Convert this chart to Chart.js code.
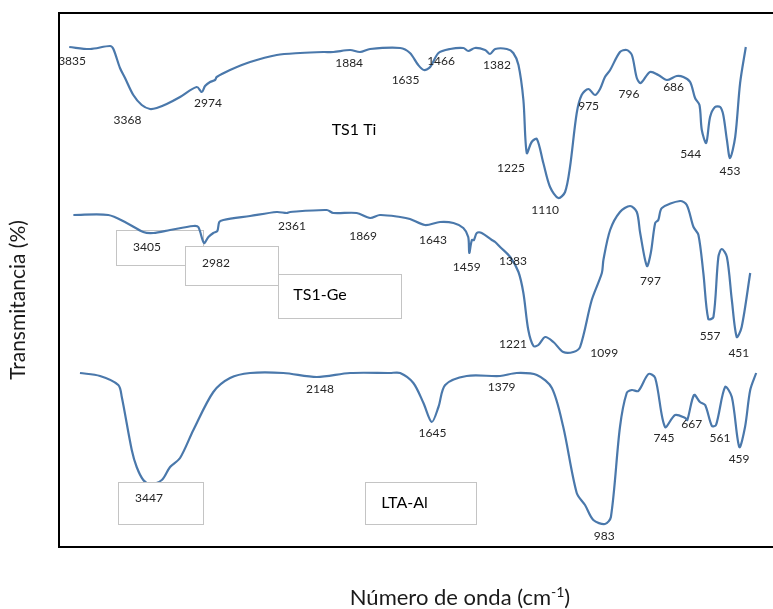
<!DOCTYPE html>
<html>
<head>
<meta charset="utf-8">
<script src="https://cdn.jsdelivr.net/npm/chart.js@4.4.0/dist/chart.umd.min.js"></script>
<style>
  html, body { margin: 0; padding: 0; background: #ffffff; }
  #c { display: block; }
</style>
</head>
<body>
<canvas id="c" width="773" height="609"></canvas>
<script>
// ---------- DATA (wavenumber in cm-1, transmittance in arbitrary units) ----------
const tiWavenumber = [4010,3849,3695,3669,3618,3579,3515,3450,3386,3334,3257,3154,3025,2986,2961,2922,2884,2871,2768,2613,2407,2227,2047,1985,1920,1882,1843,1727,1689,1657,1635,1611,1579,1534,1483,1464,1438,1399,1380,1360,1315,1290,1270,1251,1238,1219,1199,1174,1148,1116,1090,1071,1045,1026,1000,974,955,936,916,878,852,832,813,798,762,730,697,659,633,607,588,571,562,545,530,511,491,479,465,453,433,414,392];
const tiTransmittance = [500,498,501,498,479,469,452,442,438,439,443,450,460,455,461,465,467,470,477,485,492,494,495,495,497,495,498,499,494,482,477,480,494,498,499,496,499,497,493,498,498,494,482,447,394,405,408,384,360,349,355,380,434,452,458,452,458,470,477,495,497,492,469,464,475,472,467,471,470,465,449,442,417,404,430,440,440,432,407,389,410,464,500];

const geWavenumber = [3978,3708,3566,3438,3360,3231,3051,3013,2969,2935,2897,2866,2851,2820,2613,2407,2330,2304,2021,1985,1895,1843,1805,1727,1689,1631,1573,1521,1483,1464,1460,1450,1442,1431,1412,1373,1360,1341,1302,1270,1251,1232,1212,1193,1167,1135,1097,1058,1032,987,948,942,916,878,839,813,800,774,759,742,730,716,646,620,594,575,556,537,517,498,485,465,446,427,408,375];
const geTransmittance = [332,332,324,315,314,317,321,320,304,310,314,316,325,327,331,335,334,335,337,334,334,329,332,330,328,322,325,324,319,310,294,307,307,314,314,307,305,300,290,275,254,217,201,202,210,205,195,195,200,247,274,287,317,335,341,335,314,281,294,324,327,339,346,342,320,312,274,228,230,290,298,290,247,210,220,274];

const ltaWavenumber = [3927,3772,3631,3604,3527,3489,3438,3386,3295,3231,3154,3051,2897,2768,2613,2356,2098,1920,1766,1727,1676,1637,1605,1579,1553,1470,1341,1277,1199,1141,1097,1045,1013,981,936,913,878,852,832,807,768,742,704,665,626,618,592,569,549,523,507,472,446,417,395,375,352];
const ltaTransmittance = [174,171,162,150,97,80,67,63,67,80,89,117,155,169,174,174,170,174,174,174,164,144,125,140,162,171,171,174,172,159,120,54,42,27,23,30,120,154,157,156,173,169,120,132,129,127,152,145,142,121,122,160,150,100,120,157,174];

// Peak annotation texts and their anchor (wavenumber, transmittance)
const tiPeakText = ['3835','3368','2974','1884','1635','1466','1382','1225','1110','975','796','686','544','453'];
const tiPeakWn   = [3988,3560,2938,1924,1706,1569,1353,1299,1167,999,843,671,605,453];
const tiPeakT    = [486,427,444,484,467,486,482,379,337,441,453,460,393,376];

const gePeakText = ['3405','2982','2361','1869','1643','1459','1383','1221','1099','797','557','451'];
const gePeakWn   = [3409,2876,2289,1870,1600,1470,1291,1291,939,760,530,419];
const gePeakT    = [300,284,321,311,307,280,286,203,194,266,211,194];

const ltaPeakText = ['3447','2148','1645','1379','983','745','667','561','459'];
const ltaPeakWn   = [3394,2073,1602,1335,939,708,601,492,418];
const ltaPeakT    = [49,158,114,160,11,109,123,109,88];

const sampleNames = ['TS1 Ti','TS1-Ge','LTA-Al'];
const sampleNameWn = [1905,2073,1710];
const sampleNameT  = [417,252,44];

// Text boxes: [wnLeft, wnRight, tTop, tBottom, drawnOverCurves]
const boxWnLeft  = [3649,3115,2397,3633,1862];
const boxWnRight = [2976,2397,1723,2976,1434];
const boxTTop    = [317,301,273,65,65];
const boxTBottom = [282,262,229,23,23];
const boxOnTop   = [false,false,false,true,true];

const xTitle = 'Número de onda (cm';
const xTitleSup = '-1';
const xTitleEnd = ')';
const yTitle = 'Transmitancia (%)';

// ---------- custom wavenumber scale (half scale above 2000 cm-1) ----------
class WavenumberScale extends Chart.LinearScale {
  _u(v) { return v >= 2000 ? (4000 - v) / 2 : 1000 + (2000 - v); }
  _inv(u) { return u <= 1000 ? 4000 - 2 * u : 3000 - u; }
  getPixelForValue(v) {
    const u0 = this._u(this.max), u1 = this._u(this.min);
    return this.left + (this._u(v) - u0) / (u1 - u0) * this.width;
  }
  getValueForPixel(p) {
    const u0 = this._u(this.max), u1 = this._u(this.min);
    return this._inv(u0 + (p - this.left) / this.width * (u1 - u0));
  }
}
WavenumberScale.id = 'wavenumber';
WavenumberScale.defaults = Chart.LinearScale.defaults;
Chart.register(WavenumberScale);

function pts(xs, ys) { return xs.map((x, i) => ({ x: x, y: ys[i] })); }

const LINE = '#4a78ab';
const TXT = '#262626';

function drawBoxes(chart, onTop) {
  const { ctx, scales: { x, y } } = chart;
  ctx.save();
  for (let i = 0; i < boxWnLeft.length; i++) {
    if (boxOnTop[i] !== onTop) continue;
    const l = Math.round(x.getPixelForValue(boxWnLeft[i])) + 0.5;
    const r = Math.round(x.getPixelForValue(boxWnRight[i])) + 0.5;
    const t = Math.round(y.getPixelForValue(boxTTop[i])) + 0.5;
    const b = Math.round(y.getPixelForValue(boxTBottom[i])) + 0.5;
    ctx.fillStyle = '#ffffff';
    ctx.fillRect(l, t, r - l, b - t);
    ctx.strokeStyle = '#c4c4c4';
    ctx.lineWidth = 1;
    ctx.strokeRect(l, t, r - l, b - t);
  }
  ctx.restore();
}

const annot = {
  id: 'annot',
  beforeDatasetsDraw(chart) { drawBoxes(chart, false); },
  afterDatasetsDraw(chart) {
    drawBoxes(chart, true);
    const { ctx, chartArea, scales: { x, y } } = chart;
    ctx.save();
    ctx.fillStyle = TXT;
    ctx.textAlign = 'center';
    ctx.textBaseline = 'middle';
    ctx.font = '12px Lato';
    const groups = [[tiPeakText, tiPeakWn, tiPeakT], [gePeakText, gePeakWn, gePeakT], [ltaPeakText, ltaPeakWn, ltaPeakT]];
    groups.forEach(g => {
      g[0].forEach((s, i) => ctx.fillText(s, x.getPixelForValue(g[1][i]), y.getPixelForValue(g[2][i])));
    });
    ctx.fillStyle = '#000000';
    ctx.font = '16px Lato';
    sampleNames.forEach((s, i) => ctx.fillText(s, x.getPixelForValue(sampleNameWn[i]), y.getPixelForValue(sampleNameT[i])));

    // frame (left, top, bottom)
    ctx.strokeStyle = '#000000';
    ctx.lineWidth = 2;
    ctx.beginPath();
    ctx.moveTo(chart.width, chartArea.top);
    ctx.lineTo(chartArea.left, chartArea.top);
    ctx.lineTo(chartArea.left, chartArea.bottom);
    ctx.lineTo(chart.width, chartArea.bottom);
    ctx.stroke();

    // axis titles
    ctx.fillStyle = '#1a1a1a';
    ctx.textAlign = 'left';
    ctx.textBaseline = 'alphabetic';
    ctx.font = '22px Lato';
    const w1 = ctx.measureText(xTitle).width;
    const w3 = ctx.measureText(xTitleEnd).width;
    ctx.font = '14px Lato';
    const w2 = ctx.measureText(xTitleSup).width;
    const cx = (chartArea.left + chartArea.right) / 2 + 44;
    let sx = cx - (w1 + w2 + w3) / 2;
    const base = 605;
    ctx.font = '22px Lato';
    ctx.fillText(xTitle, sx, base);
    ctx.font = '14px Lato';
    ctx.fillText(xTitleSup, sx + w1, base - 8);
    ctx.font = '22px Lato';
    ctx.fillText(xTitleEnd, sx + w1 + w2, base);

    ctx.font = '21px Lato';
    ctx.translate(18, 300);
    ctx.rotate(-Math.PI / 2);
    ctx.textAlign = 'center';
    ctx.textBaseline = 'middle';
    ctx.fillText(yTitle, 0, 0);
    ctx.restore();
  }
};

const common = { borderColor: LINE, borderWidth: 2.2, pointRadius: 0, tension: 0.3, fill: false };

new Chart(document.getElementById('c'), {
  type: 'line',
  data: {
    datasets: [
      Object.assign({ label: sampleNames[0], data: pts(tiWavenumber, tiTransmittance) }, common),
      Object.assign({ label: sampleNames[1], data: pts(geWavenumber, geTransmittance) }, common),
      Object.assign({ label: sampleNames[2], data: pts(ltaWavenumber, ltaTransmittance) }, common)
    ]
  },
  options: {
    responsive: false,
    devicePixelRatio: 1,
    animation: false,
    layout: { padding: { left: 59, right: 0, top: 13, bottom: 62 } },
    plugins: { legend: { display: false }, tooltip: { enabled: false }, title: { display: false } },
    scales: {
      x: { type: 'wavenumber', min: 287, max: 4089, display: false },
      y: { type: 'linear', min: 0, max: 534, display: false }
    }
  },
  plugins: [annot]
});
</script>
</body>
</html>
